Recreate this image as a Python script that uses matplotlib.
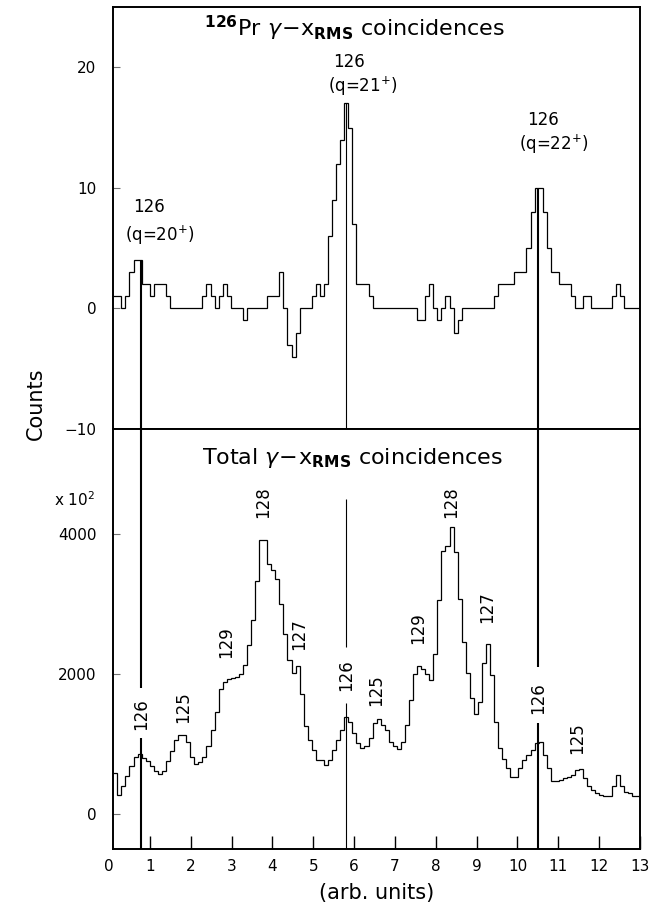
import numpy as np
import matplotlib
matplotlib.use("Agg")
import matplotlib.pyplot as plt
from matplotlib.transforms import blended_transform_factory

# ---------------- data ----------------
x_start, x_end, n_bins = 0.1, 13.0, 130

pr126_counts = [
    1, 1, 0, 1, 3, 4, 4, 2, 2, 1, 2, 2, 2, 1,
    0, 0, 0, 0, 0, 0, 0, 0,
    1, 2, 1, 0, 1, 2, 1,
    0, 0, 0, -1, 0, 0, 0, 0, 0,
    1, 1, 1, 3, 0, -3, -4, -2,
    0, 0, 0,
    1, 2, 1, 2, 6, 9, 12, 14, 17, 15, 7,
    2, 2, 2, 1,
    0, 0, 0, 0, 0, 0, 0, 0, 0, 0, 0,
    -1, -1, 1, 2, 0, -1, 0, 1, 0, -2, -1,
    0, 0, 0, 0, 0, 0, 0, 0,
    1, 2, 2, 2, 2, 3, 3, 3, 5, 8, 10, 10, 8, 5, 3, 3, 2, 2, 2, 1,
    0, 0, 1, 1, 0, 0, 0, 0, 0, 1, 2, 1, 0, 0, 0, 0,
]

total_counts = [
    580, 275, 395, 540, 685, 815, 860, 800, 760, 690,
    615, 565, 615, 750, 895, 1050, 1135, 1130, 1035, 810,
    720, 745, 815, 965, 1200, 1460, 1780, 1890, 1925, 1945,
    1960, 1995, 2130, 2410, 2765, 3325, 3910, 3910, 3575, 3480,
    3360, 3005, 2575, 2205, 2010, 2120, 1720, 1250, 1060, 915,
    775, 775, 700, 775, 915, 1060, 1200, 1390, 1320, 1150,
    1010, 940, 965, 1080, 1295, 1350, 1270, 1200, 1035, 965,
    925, 1035, 1270, 1630, 2005, 2115, 2065, 2005, 1920, 2290,
    3050, 3760, 3830, 4095, 3740, 3075, 2455, 2015, 1650, 1435,
    1605, 2150, 2425, 1985, 1320, 940, 785, 655, 535, 535,
    655, 775, 845, 915, 1020, 1035, 845, 655, 465, 465,
    490, 510, 535, 560, 630, 640, 510, 395, 345, 300,
    275, 250, 250, 395, 560, 395, 310, 300, 260, 260,
]

# q = 20+, 21+, 22+ markers of mass 126
marker_x = [0.79, 5.79, 10.51]
marker_top_from = [4, 17, 10]                 # start height in upper panel
marker_bot_upper = [(5500, 1800), (4500, 2390), (5500, 2098)]
marker_bot_lower = [(1084, -500), (1580, -500), (1297, -500)]
marker_lw = [1.5, 0.8, 1.5]

top_labels = [
    ("126", 0.97, 8.4), (r"(q=20$^{+}$)", 1.24, 6.1),
    ("126", 5.87, 20.4), (r"(q=21$^{+}$)", 6.22, 18.4),
    ("126", 10.63, 15.6), (r"(q=22$^{+}$)", 10.88, 13.6),
]

bottom_labels = [
    ("126", 0.79, 1430), ("125", 1.80, 1531), ("129", 2.86, 2462),
    ("128", 3.78, 4461), ("127", 4.65, 2566), ("126", 5.80, 1982),
    ("125", 6.55, 1776), ("129", 7.56, 2658), ("128", 8.37, 4461),
    ("127", 9.25, 2954), ("126", 10.51, 1662), ("125", 11.47, 1081),
]

top_yticks = [20, 10, 0, -10]
bot_yticks = [0, 2000, 4000]
x_ticks = list(range(1, 14))

# ---------------- figure ----------------
plt.rcParams['font.family'] = ['DejaVu Sans']
plt.rcParams['mathtext.fontset'] = 'dejavusans'

fig = plt.figure(figsize=(6.51, 9.07), dpi=100)
left, width = 0.174, 0.809
ax_top = fig.add_axes([left, 0.527, width, 0.9923 - 0.527])
ax_bot = fig.add_axes([left, 0.064, width, 0.527 - 0.064])

edges = np.linspace(x_start, x_end, n_bins + 1)

ax_top.stairs(pr126_counts, edges, baseline=None, color='black', lw=0.9)
ax_bot.stairs(total_counts, edges, baseline=None, color='black', lw=0.9)

for xm, y0, lw in zip(marker_x, marker_top_from, marker_lw):
    ax_top.plot([xm, xm], [y0, -10], color='black', lw=lw, solid_capstyle='butt')
for xm, seg, lw in zip(marker_x, marker_bot_upper, marker_lw):
    ax_bot.plot([xm, xm], list(seg), color='black', lw=lw, solid_capstyle='butt', clip_on=True)
for xm, seg, lw in zip(marker_x, marker_bot_lower, marker_lw):
    ax_bot.plot([xm, xm], list(seg), color='black', lw=lw, solid_capstyle='butt', clip_on=True)

for ax in (ax_top, ax_bot):
    ax.set_xlim(x_start, 13.0)
    for sp in ax.spines.values():
        sp.set_linewidth(1.4)
        sp.set_color('black')

ax_top.set_ylim(-10, 25)
ax_bot.set_ylim(-500, 5500)

ax_top.set_xticks([])
ax_top.set_yticks(top_yticks)
ax_bot.set_yticks(bot_yticks)
ax_bot.set_xticks(x_ticks)

for ax in (ax_top, ax_bot):
    ax.tick_params(axis='y', direction='in', length=5, width=0.8, color='0.45',
                   labelsize=11, pad=12)
ax_bot.tick_params(axis='x', direction='in', length=9.5, width=1.0, color='black',
                   labelsize=11, pad=7)

# "0" label at x = 0 (axis starts at the first channel)
trans = blended_transform_factory(ax_bot.transData, ax_bot.transAxes)
ax_bot.annotate("0", xy=(0, 0), xycoords=trans, xytext=(0, -7),
                textcoords='offset points', ha='center', va='top',
                fontsize=11, annotation_clip=False)

# titles inside panels
ax_top.text(6.02, 23.2,
            r"$^{\mathbf{126}}\mathrm{Pr}\ \gamma\!-\!\mathrm{x}_{\mathbf{RMS}}\ \mathrm{coincidences}$",
            ha='center', va='center', fontsize=16)
ax_bot.text(5.97, 5089,
            r"$\mathrm{Total}\ \gamma\!-\!\mathrm{x}_{\mathbf{RMS}}\ \mathrm{coincidences}$",
            ha='center', va='center', fontsize=16)

for txt, xx, yy in top_labels:
    ax_top.text(xx, yy, txt, ha='center', va='center', fontsize=12)
for txt, xx, yy in bottom_labels:
    ax_bot.text(xx, yy, txt, ha='center', va='center', fontsize=12, rotation=90)

fig.text(0.115, 0.449, r"x 10$^{2}$", ha='center', va='center', fontsize=11)
fig.text(0.055, 0.555, "Counts", rotation=90, ha='center', va='center', fontsize=15)
fig.text(0.578, 0.0154, "(arb. units)", ha='center', va='center', fontsize=15)

fig.savefig("out.png", dpi=100)
